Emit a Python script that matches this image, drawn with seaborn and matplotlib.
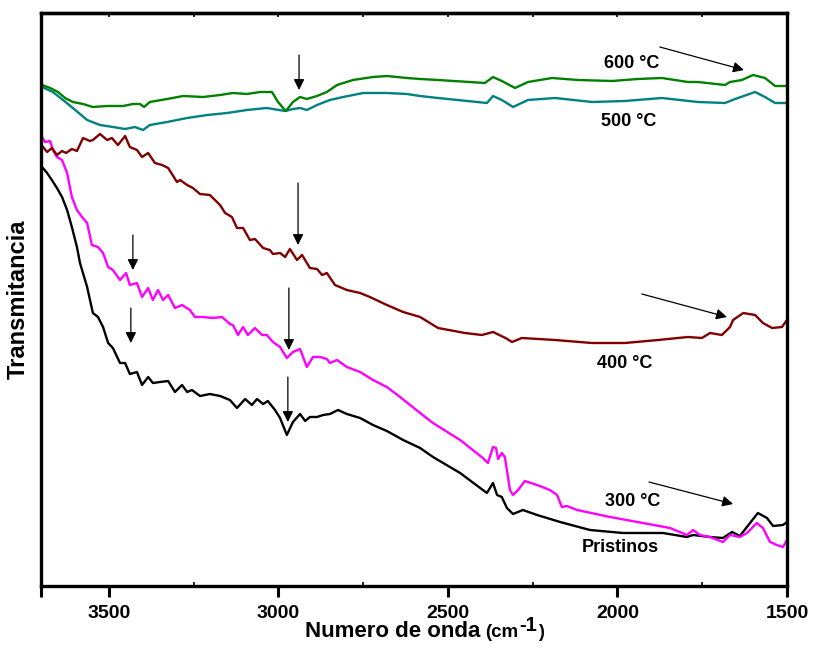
import matplotlib
matplotlib.use("Agg")
import matplotlib.pyplot as plt
import seaborn as sns
import pandas as pd
from matplotlib.ticker import FixedLocator

# FTIR spectra (wavenumber in cm-1, transmittance in arbitrary units)
wn_600 = [3697, 3673, 3650, 3629, 3606, 3576, 3547, 3505, 3458, 3429, 3408, 3396, 3379, 3328, 3281,
          3222, 3172, 3134, 3093, 3054, 3019, 3001, 2978, 2957, 2936, 2916, 2886, 2857, 2827, 2780,
          2721, 2680, 2621, 2582, 2529, 2391, 2367, 2341, 2302, 2264, 2193, 2116, 2016, 1940, 1869,
          1792, 1763, 1683, 1668, 1633, 1600, 1565, 1535, 1500]
t_600 = [501, 498, 494, 488, 484, 482, 479, 480, 480, 482, 482, 479, 484, 487, 490,
         489, 491, 493, 492, 494, 494, 484, 475, 484, 489, 487, 490, 494, 501, 506,
         509, 510, 508, 507, 506, 503, 509, 505, 498, 504, 508, 506, 505, 507, 508,
         504, 504, 501, 504, 506, 511, 508, 500, 500]

wn_500 = [3697, 3665, 3635, 3606, 3564, 3526, 3488, 3452, 3423, 3399, 3379, 3328, 3269, 3210, 3151,
          3093, 3034, 2980, 2957, 2936, 2916, 2886, 2848, 2809, 2750, 2680, 2621, 2582, 2529, 2385,
          2367, 2341, 2308, 2264, 2184, 2075, 1978, 1869, 1763, 1683, 1653, 1594, 1565, 1535, 1500]
t_500 = [499, 494, 486, 478, 466, 461, 459, 457, 459, 456, 461, 464, 468, 471, 473,
         476, 478, 475, 477, 478, 476, 481, 486, 489, 493, 493, 492, 490, 488, 483,
         490, 486, 479, 486, 488, 484, 485, 488, 484, 483, 487, 494, 489, 483, 483]

wn_400 = [3700, 3694, 3682, 3668, 3653, 3638, 3626, 3609, 3594, 3576, 3556, 3547, 3526, 3505, 3491,
          3473, 3452, 3438, 3417, 3402, 3384, 3364, 3343, 3325, 3299, 3290, 3269, 3252, 3231, 3202,
          3172, 3157, 3137, 3122, 3104, 3084, 3069, 3045, 3025, 3016, 2995, 2980, 2966, 2945, 2930,
          2907, 2886, 2871, 2857, 2833, 2798, 2759, 2730, 2680, 2632, 2582, 2529, 2450, 2400, 2367,
          2330, 2311, 2282, 2184, 2075, 1978, 1880, 1792, 1751, 1727, 1692, 1668, 1659, 1629, 1594,
          1571, 1544, 1515, 1500]
t_400 = [441, 439, 434, 438, 431, 435, 433, 437, 435, 448, 445, 446, 452, 446, 448,
         441, 450, 439, 436, 429, 433, 423, 421, 418, 404, 406, 401, 398, 392, 391,
         381, 373, 369, 358, 358, 346, 347, 338, 336, 332, 333, 329, 337, 326, 331,
         318, 317, 311, 313, 301, 296, 293, 289, 281, 274, 269, 258, 253, 251, 254,
         248, 244, 248, 246, 243, 243, 246, 249, 248, 253, 251, 259, 266, 273, 271,
         263, 258, 259, 266]

wn_300 = [3700, 3697, 3688, 3673, 3665, 3653, 3638, 3623, 3609, 3594, 3579, 3564, 3550, 3532, 3517,
          3502, 3488, 3467, 3449, 3438, 3417, 3402, 3384, 3370, 3355, 3340, 3325, 3305, 3284, 3261,
          3246, 3222, 3193, 3166, 3143, 3134, 3119, 3104, 3090, 3069, 3048, 3034, 3016, 2995, 2975,
          2957, 2936, 2916, 2898, 2877, 2857, 2848, 2827, 2798, 2759, 2721, 2680, 2641, 2582, 2544,
          2464, 2397, 2382, 2367, 2358, 2352, 2341, 2332, 2317, 2308, 2293, 2273, 2237, 2199, 2178,
          2164, 2149, 2119, 2022, 1925, 1845, 1795, 1777, 1757, 1727, 1689, 1668, 1639, 1618, 1589,
          1571, 1550, 1530, 1512, 1500]
t_300 = [450, 449, 444, 445, 436, 429, 426, 413, 389, 376, 369, 363, 341, 339, 333,
         319, 316, 306, 313, 301, 303, 289, 298, 286, 296, 286, 291, 278, 281, 276,
         269, 269, 268, 269, 262, 261, 251, 259, 251, 258, 251, 251, 244, 239, 228,
         234, 237, 219, 229, 229, 227, 223, 226, 219, 214, 206, 199, 189, 173, 163,
         146, 128, 123, 139, 138, 127, 133, 129, 96, 91, 96, 105, 101, 96, 91,
         79, 80, 76, 69, 63, 58, 51, 56, 51, 49, 44, 51, 49, 53, 63,
         58, 44, 41, 39, 46]

wn_pri = [3700, 3697, 3682, 3668, 3653, 3638, 3623, 3609, 3594, 3585, 3564, 3547, 3532, 3517, 3502,
          3488, 3467, 3452, 3438, 3417, 3402, 3384, 3370, 3349, 3325, 3305, 3284, 3269, 3255, 3231,
          3202, 3172, 3143, 3122, 3098, 3078, 3063, 3045, 3031, 3010, 2995, 2975, 2957, 2936, 2921,
          2907, 2886, 2868, 2848, 2824, 2798, 2759, 2721, 2680, 2632, 2582, 2544, 2464, 2385, 2367,
          2355, 2341, 2326, 2308, 2279, 2237, 2169, 2081, 1984, 1866, 1795, 1777, 1727, 1689, 1662,
          1639, 1609, 1586, 1559, 1541, 1512, 1500]
t_pri = [421, 419, 413, 406, 398, 389, 376, 359, 339, 323, 299, 273, 269, 259, 243,
         238, 223, 223, 212, 214, 201, 209, 203, 204, 205, 194, 201, 194, 196, 190,
         192, 190, 186, 178, 187, 181, 187, 182, 185, 176, 168, 151, 164, 172, 165,
         169, 169, 171, 172, 176, 172, 168, 161, 155, 146, 138, 129, 113, 93, 103,
         91, 89, 78, 72, 76, 71, 64, 56, 53, 53, 49, 51, 49, 48, 54,
         50, 63, 73, 68, 60, 61, 64]

series_names = ["Pristinos", "300 °C", "400 °C", "500 °C", "600 °C"]
series_colors = ["#000000", "#ff00ff", "#800000", "#008080", "#008000"]

x_ticks = [3700, 3500, 3000, 2500, 2000, 1500]
x_tick_labels = ["", "3500", "3000", "2500", "2000", "1500"]

frames = []
for name, wn, t in zip(series_names,
                       [wn_pri, wn_300, wn_400, wn_500, wn_600],
                       [t_pri, t_300, t_400, t_500, t_600]):
    frames.append(pd.DataFrame({"wn": wn, "T": t, "muestra": name}))
df = pd.concat(frames, ignore_index=True)

sns.set_style("ticks")
plt.rcParams["font.family"] = ["Liberation Sans", "DejaVu Sans"]
plt.rcParams["font.weight"] = "bold"
for key in ["text.color", "axes.labelcolor", "xtick.color", "ytick.color", "axes.edgecolor"]:
    plt.rcParams[key] = "black"

W, H = 814, 649
fig = plt.figure(figsize=(W / 100, H / 100), dpi=100)
ax = fig.add_axes([41 / W, 63 / H, 746 / W, 573 / H])

for name, color in zip(series_names, series_colors):
    sub = df[df["muestra"] == name]
    sns.lineplot(data=sub, x="wn", y="T", ax=ax, color=color, lw=1.7,
                 sort=False, estimator=None, legend=False)

ax.set_xlim(3700, 1500)
ax.set_ylim(0, 573)
ax.set_yticks([])
ax.set_xlabel("")

ax.xaxis.set_major_locator(FixedLocator(x_ticks))
ax.set_xticklabels(x_tick_labels, fontsize=14, fontweight="bold")
ax.xaxis.set_minor_locator(FixedLocator([3250, 2750, 2250, 1750]))
ax.tick_params(axis="x", which="major", direction="out", length=8, width=2.2, pad=6)
ax.tick_params(axis="x", which="minor", direction="in", length=3, width=1.2)

top = ax.secondary_xaxis("top")
top.xaxis.set_major_locator(FixedLocator([3500, 3250, 3000, 2750, 2500, 2250, 2000, 1750]))
top.tick_params(direction="in", length=3, width=1.2, labeltop=False)

for side in ["left", "right", "top", "bottom"]:
    ax.spines[side].set_linewidth(2.4)
top.spines["top"].set_linewidth(2.4)

ax.set_ylabel("Transmitancia", fontsize=17, fontweight="bold", labelpad=8)

# X-axis title assembled from pieces of different size
fig.canvas.draw()
renderer = fig.canvas.get_renderer()
base_y = 12 / H
x_cursor = 305 / W
pieces = [("Numero de onda", 16, 0, 5),
          ("(cm", 13.5, 0, 1),
          ("-1", 14.5, 6, 1),
          (")", 13, 0, 0)]
for txt, size, rise, gap in pieces:
    t = fig.text(x_cursor, base_y + rise / H, txt, fontsize=size, fontweight="bold",
                 ha="left", va="baseline")
    bb = t.get_window_extent(renderer)
    x_cursor = (bb.x1 + gap) / W

# Sample labels
label_font = dict(fontsize=13, fontweight="bold", ha="center", va="center")
ax.text(1957, 523, "600 °C", **label_font)
ax.text(1966, 465, "500 °C", **label_font)
ax.text(1978, 223, "400 °C", **label_font)
ax.text(1954, 84, "300 °C", **label_font)
ax.text(1993, 39, "Pristinos", **label_font)

# Arrows marking bands
arrow = dict(arrowstyle="-|>", color="black", lw=0.9, mutation_scale=16, shrinkA=0, shrinkB=0)
arrows = [
    ((2939, 531), (2939, 496)),
    ((2942, 403), (2942, 341)),
    ((3429, 351), (3429, 316)),
    ((3435, 278), (3435, 243)),
    ((2969, 298), (2969, 236)),
    ((2972, 209), (2972, 164)),
    ((1875, 539), (1627, 516)),
    ((1928, 292), (1677, 269)),
    ((1907, 104), (1659, 82)),
]
for start, end in arrows:
    ax.annotate("", xy=end, xytext=start, arrowprops=arrow)

fig.savefig("out.png", dpi=100)
